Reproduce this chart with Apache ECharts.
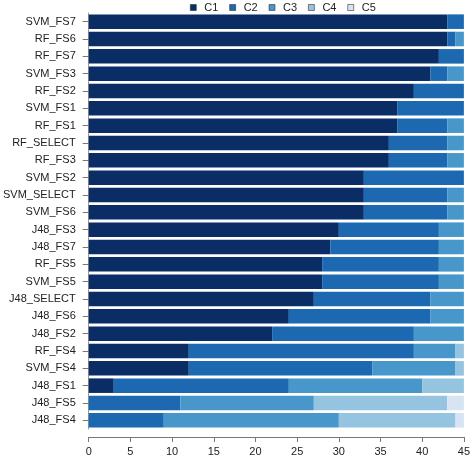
<!DOCTYPE html>
<html>
<head>
<meta charset="utf-8">
<script src="https://cdn.jsdelivr.net/npm/echarts@6/dist/echarts.min.js"></script>
<style>html,body{margin:0;padding:0;background:#fff}#c{width:473px;height:458px}</style>
</head>
<body>
<div id="c"></div>
<script>
const categories = ["SVM_FS7","RF_FS6","RF_FS7","SVM_FS3","RF_FS2","SVM_FS1","RF_FS1","RF_SELECT","RF_FS3","SVM_FS2","SVM_SELECT","SVM_FS6","J48_FS3","J48_FS7","RF_FS5","SVM_FS5","J48_SELECT","J48_FS6","J48_FS2","RF_FS4","SVM_FS4","J48_FS1","J48_FS5","J48_FS4"];
const seriesNames = ["C1","C2","C3","C4","C5"];
const C1 = [43,43,42,41,39,37,37,36,36,33,33,33,30,29,28,28,27,24,22,12,12,3,0,0];
const C2 = [2,1,3,2,6,8,6,7,7,12,10,10,12,13,14,14,14,17,17,27,22,21,11,9];
const C3 = [0,1,0,2,0,0,2,2,2,0,2,2,3,3,3,3,4,4,6,5,10,16,16,21];
const C4 = [0,0,0,0,0,0,0,0,0,0,0,0,0,0,0,0,0,0,0,1,1,5,16,14];
const C5 = [0,0,0,0,0,0,0,0,0,0,0,0,0,0,0,0,0,0,0,0,0,0,2,1];
const xTicks = [0,5,10,15,20,25,30,35,40,45];

const values = [C1,C2,C3,C4,C5];
const colors = ["#0b2d66","#1c68b1","#4797cb","#95c4e0","#d8e4f4"];
const font = "Liberation Sans, Arial, Helvetica, sans-serif";

const chart = echarts.init(document.getElementById('c'), null, {renderer:'canvas'});
chart.setOption({
  animation: false,
  backgroundColor: '#fff',
  color: colors,
  legend: {
    left: 190, top: 2, padding: 0,
    itemWidth: 6, itemHeight: 6, itemGap: 11,
    icon: 'rect',
    textStyle: {fontFamily: font, fontSize: 11, color: '#222', padding: [0,0,0,3]},
    itemStyle: {borderColor: '#333', borderWidth: 0.6},
    data: seriesNames
  },
  grid: {left: 88, right: 7, top: 13, bottom: 29, containLabel: false},
  xAxis: {
    type: 'value', min: 0, max: 45, interval: 5,
    offset: 8,
    axisLine: {show: true, lineStyle: {color: '#777', width: 1}},
    axisTick: {show: true, length: 5, lineStyle: {color: '#777'}},
    axisLabel: {fontFamily: font, fontSize: 11, color: '#222', margin: 9,
      formatter: v => xTicks.includes(v) ? String(v) : ''},
    splitLine: {show: false}
  },
  yAxis: {
    type: 'category', data: categories, inverse: true,
    axisLine: {show: true, lineStyle: {color: '#999', width: 1}},
    axisTick: {show: true, length: 6, alignWithLabel: true, lineStyle: {color: '#777'}},
    axisLabel: {fontFamily: font, fontSize: 11, color: '#222', margin: 13},
    splitLine: {show: false}
  },
  series: seriesNames.map((n, i) => ({
    name: n, type: 'bar', stack: 'all',
    barCategoryGap: '16%',
    data: values[i],
    itemStyle: {color: colors[i]}
  }))
});
</script>
</body>
</html>
